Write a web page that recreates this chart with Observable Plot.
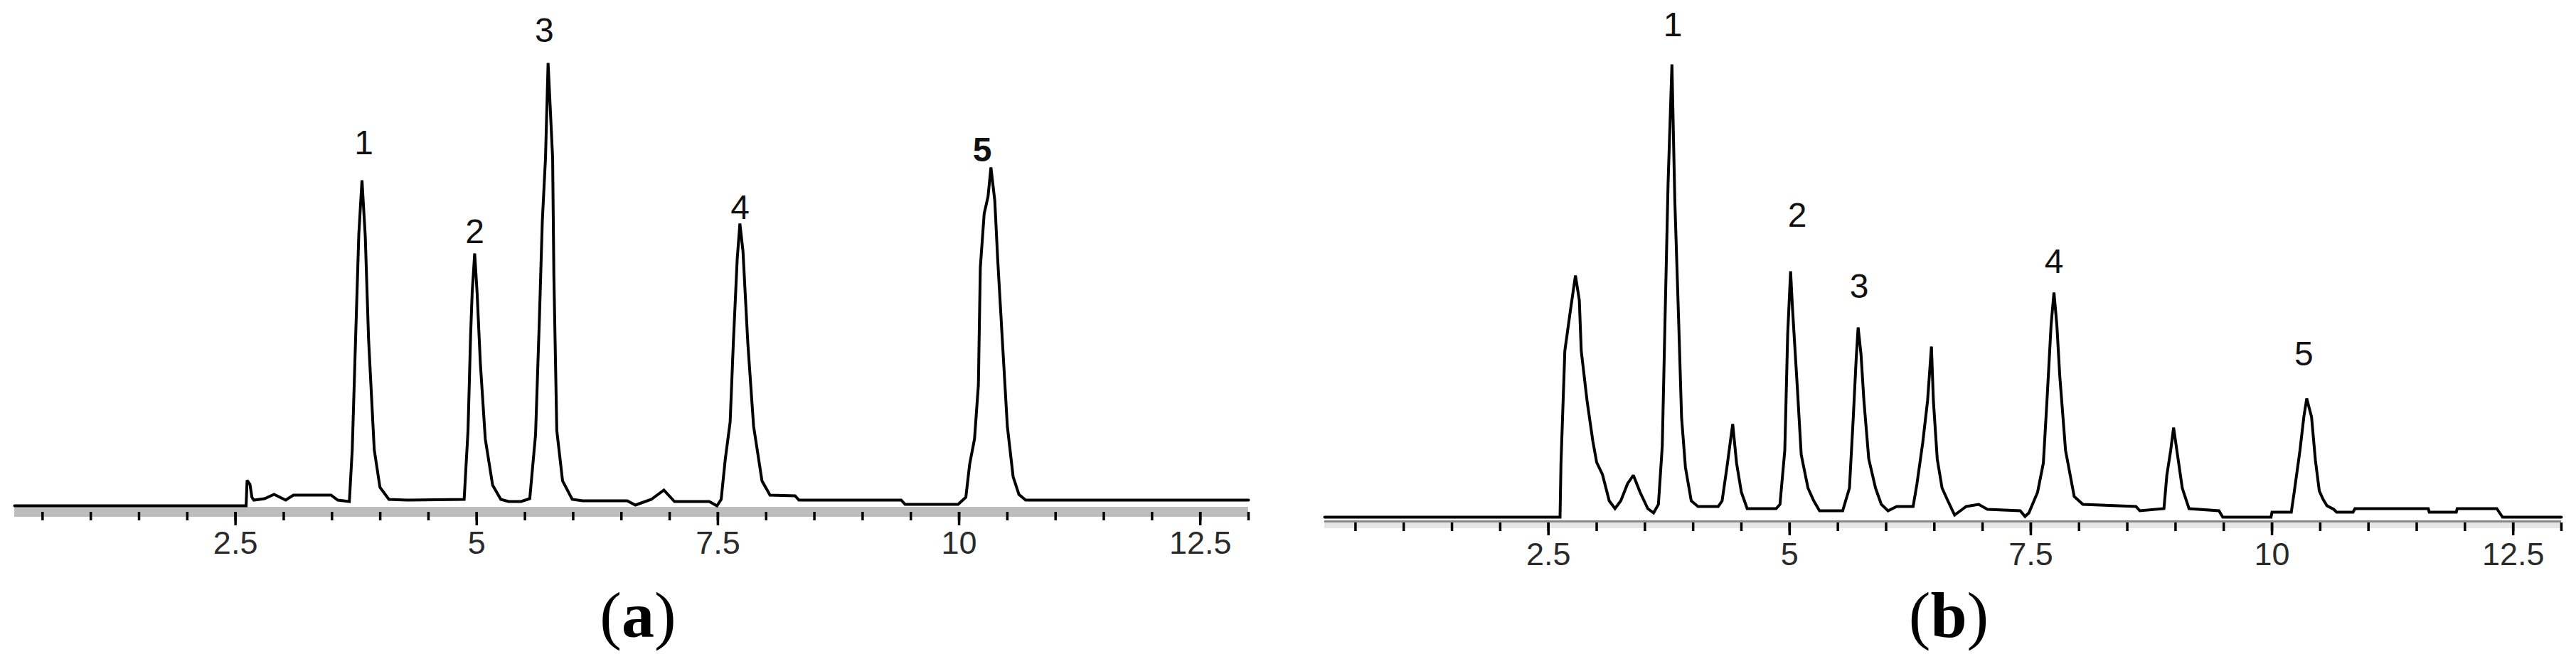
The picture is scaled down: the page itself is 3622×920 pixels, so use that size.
<!DOCTYPE html>
<html>
<head>
<meta charset="utf-8">
<script src="https://cdn.jsdelivr.net/npm/d3@7"></script>
<script src="https://cdn.jsdelivr.net/npm/@observablehq/plot@0.6"></script>
<style>
  html, body { margin: 0; padding: 0; background: #fff; }
  body { width: 3622px; height: 920px; position: relative; overflow: hidden; }
  .panel { position: absolute; top: 0; }
  .cap { position: absolute; top: 819px; width: 400px; text-align: center;
         font-family: "Liberation Serif", "Times New Roman", serif; font-size: 92px;
         line-height: 92px; color: #000; }
  .cap b { font-weight: bold; }
</style>
</head>
<body>
<div id="panelA" class="panel" style="left:0px"></div>
<div id="panelB" class="panel" style="left:1800px"></div>
<div class="cap" style="left:697px">(<b>a</b>)</div>
<div class="cap" style="left:2540px">(<b>b</b>)</div>
<script>
// ---- Chromatogram (a): retention time (min) and detector signal (arbitrary units)
const timeA = [0.21, 2.61, 2.62, 2.65, 2.67, 2.69, 2.80, 2.90, 3.02, 3.10, 3.49, 3.56, 3.68,
  3.71, 3.744, 3.778, 3.811, 3.845, 3.879, 3.938, 3.997, 4.09, 4.28, 4.87,
  4.91, 4.937, 4.953, 4.979, 5.004, 5.038, 5.089, 5.165, 5.25, 5.33, 5.46, 5.55,
  5.61, 5.65, 5.68, 5.713, 5.74, 5.787, 5.80, 5.83, 5.89, 5.99, 6.10, 6.56, 6.645, 6.81, 6.94, 7.05, 7.41, 7.49,
  7.534, 7.576, 7.627, 7.66, 7.70, 7.728, 7.76, 7.81, 7.87, 7.957, 8.04, 8.30, 8.34, 8.93, 9.40, 9.44, 9.99,
  10.07, 10.11, 10.16, 10.20, 10.22, 10.26, 10.30, 10.33, 10.37, 10.40, 10.45, 10.50, 10.56, 10.62, 10.69, 13.0];
const signalA = [0, 0, 36, 30, 12, 8, 10, 16, 8, 15, 15, 8, 6,
  79, 232, 382, 458, 379, 235, 79, 26, 9, 8, 9,
  106, 241, 300, 355, 300, 200, 94, 29, 9, 6, 6, 10,
  100, 264, 400, 489, 623, 489, 323, 106, 35, 9, 7, 7, 1, 9, 22, 6, 6, 0,
  9, 65, 118, 229, 347, 397, 358, 229, 112, 35, 15, 14, 8, 8, 8, 2, 2,
  12, 59, 94, 170, 335, 411, 435, 476, 429, 347, 229, 112, 41, 16, 8, 8];

// ---- Chromatogram (b)
const timeB = [0.18, 2.62, 2.63, 2.67, 2.73, 2.78, 2.82, 2.84, 2.90, 2.96, 3.00, 3.06, 3.13, 3.19,
  3.25, 3.32, 3.38, 3.45, 3.53, 3.59, 3.64, 3.68, 3.71, 3.74, 3.78, 3.81, 3.85, 3.88, 3.92, 3.98,
  4.05, 4.26, 4.30, 4.35, 4.39, 4.41, 4.45, 4.50, 4.56, 4.86, 4.90, 4.95, 4.98, 5.01, 5.03, 5.08,
  5.12, 5.19, 5.25, 5.31, 5.55, 5.62, 5.66, 5.69, 5.71, 5.74, 5.77, 5.82, 5.89, 5.95, 6.02, 6.11,
  6.28, 6.32, 6.38, 6.43, 6.47, 6.49, 6.53, 6.58, 6.64, 6.71, 6.77, 6.83, 6.96, 7.05, 7.39, 7.44,
  7.48, 7.57, 7.63, 7.67, 7.71, 7.74, 7.77, 7.80, 7.86, 7.95, 8.04, 8.59, 8.63, 8.88, 8.91, 8.95,
  8.98, 9.02, 9.07, 9.14, 9.45, 9.49, 9.99, 10.0, 10.2, 10.23, 10.29, 10.33, 10.36, 10.41, 10.45,
  10.49, 10.53, 10.57, 10.64, 10.67, 10.84, 10.86, 11.62, 11.63, 11.91, 11.92, 12.33, 12.39, 13.0];
const signalB = [0, 0, 76, 234, 293, 340, 305, 234, 164, 107, 77, 60, 23, 12,
  23, 47, 59, 35, 12, 6, 18, 100, 287, 469, 637, 445, 275, 140, 70, 23,
  15, 15, 23, 70, 111, 131, 76, 35, 12, 12, 18, 94, 258, 346, 293, 182,
  88, 41, 23, 9, 9, 41, 141, 223, 267, 229, 164, 82, 41, 18, 9, 15,
  15, 47, 105, 164, 240, 164, 82, 41, 23, 3, 9, 15, 18, 11, 9, 1,
  6, 35, 76, 170, 270, 316, 270, 199, 94, 29, 18, 15, 9, 12, 59, 94,
  126, 88, 41, 12, 9, 0, 0, 7, 7, 35, 94, 141, 167, 141, 80,
  37, 25, 16, 11, 7, 7, 12, 12, 7, 7, 12, 12, 0, 0];

// ---- Peak numbers and where they are written (time, signal units)
const peakNames = ["1", "2", "3", "4", "5"];
const labelTimeA = [3.83, 4.98, 5.70, 7.73, 10.24];
const labelSignalA = [510, 385, 668, 419, 500];
const labelWeightA = ["normal", "normal", "normal", "normal", "bold"];
const labelTimeB = [3.79, 5.08, 5.72, 7.74, 10.33];
const labelSignalB = [692, 424, 324, 359, 229];
const labelWeightB = ["normal", "normal", "normal", "normal", "normal"];

// ---- Axis ticks
const majorTicks = [2.5, 5, 7.5, 10, 12.5];
const majorLabels = ["2.5", "5", "7.5", "10", "12.5"];
const minorTicks = [0.5, 1, 1.5, 2, 2.5, 3, 3.5, 4, 4.5, 5, 5.5, 6, 6.5, 7, 7.5, 8, 8.5, 9, 9.5,
  10, 10.5, 11, 11.5, 12, 12.5, 13];

const sans = '"Liberation Sans", Arial, sans-serif';

function panel({time, signal, lt, ls, lw, width, mL, mR, mT, mB, xDom, yDom, band, extra}) {
  const trace = time.map((t, i) => ({t, s: signal[i]}));
  const labels = peakNames.map((n, i) => ({n, x: lt[i], y: ls[i], w: lw[i]}));
  return Plot.plot({
    width, height: 800,
    marginLeft: mL, marginRight: mR, marginTop: mT, marginBottom: mB,
    x: {domain: xDom, label: null},
    y: {domain: yDom, axis: null},
    style: {background: "transparent", overflow: "visible", fontFamily: sans},
    marks: [
      ...band,
      Plot.axisX({ticks: minorTicks, tickSize: 12, tickFormat: () => "", stroke: "#000", strokeWidth: 3.5}),
      Plot.axisX({ticks: majorTicks, tickSize: extra.majorSize, tickPadding: extra.pad,
        tickFormat: (d) => majorLabels[majorTicks.indexOf(d)],
        stroke: "#000", strokeWidth: 3.5, fontSize: 45, fill: "#2a2a2a"}),
      Plot.line(trace, {x: "t", y: "s", stroke: "#000", strokeWidth: 4, curve: "linear",
        strokeLinejoin: "miter", strokeMiterlimit: 2}),
      ...["normal", "bold"].map((w) =>
        Plot.text(labels.filter((d) => d.w === w), {x: "x", y: "y", text: "n", fontSize: 48,
          fontFamily: sans, fontWeight: w, fill: "#111"}))
    ]
  });
}

const bandA = [
  Plot.rect([{a: 0.21, b: 13}], {x1: "a", x2: "b", y1: () => -2, y2: () => -16, fill: "#bdbdbd"})
];
document.getElementById("panelA").append(panel({
  time: timeA, signal: signalA, lt: labelTimeA, ls: labelSignalA, lw: labelWeightA,
  width: 1800, mL: 20, mR: 45, mT: 88, mB: 80, xDom: [0.21, 13], yDom: [-9, 623],
  band: bandA, extra: {majorSize: 19, pad: 8}
}));

const bandB = [
  Plot.rect([{a: 0.18, b: 13}], {x1: "a", x2: "b", y1: () => -8, y2: () => -16, fill: "#e6e6e6"}),
  Plot.ruleY([0], {x1: () => 0.18, x2: () => 13, y: () => -6, stroke: "#8a8a8a", strokeWidth: 3})
];
document.getElementById("panelB").append(panel({
  time: timeB, signal: signalB, lt: labelTimeB, ls: labelSignalB, lw: labelWeightB,
  width: 1822, mL: 62, mR: 21, mT: 90, mB: 65, xDom: [0.18, 13], yDom: [-8, 637],
  band: bandB, extra: {majorSize: 18, pad: 10}
}));
</script>
</body>
</html>
